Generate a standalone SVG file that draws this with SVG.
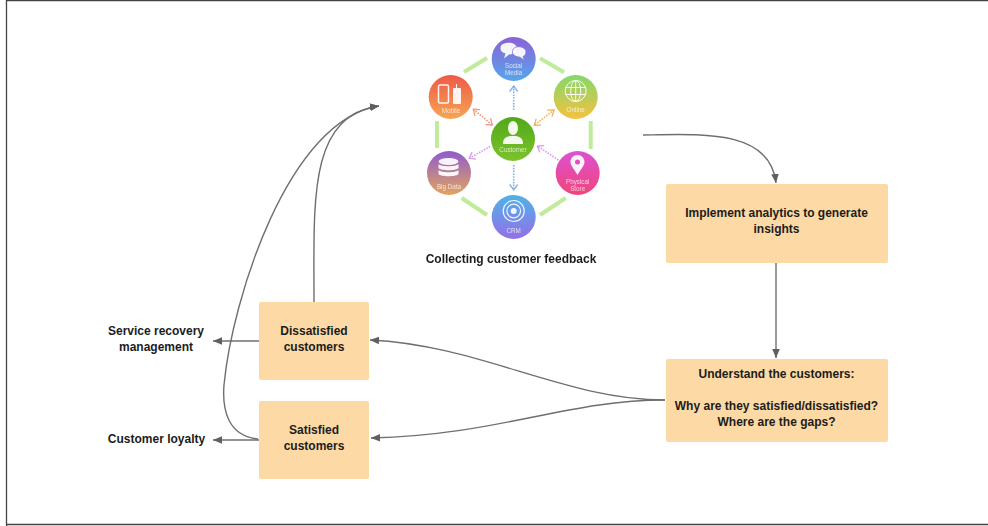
<svg xmlns="http://www.w3.org/2000/svg" width="988" height="526" viewBox="0 0 988 526">
<style>
.box{fill:#fdd9a5}
.t{font:bold 12px "Liberation Sans",Arial,sans-serif;fill:#1c1c1c;text-anchor:middle}
.c{fill:none;stroke:#6f6f73;stroke-width:1.4}
.i{font:6.3px "Liberation Sans",Arial,sans-serif;fill:#fff;fill-opacity:.75;text-anchor:middle}
.ring{fill:none;stroke:#bfeb9a;stroke-width:4}
.d{fill:none;stroke-width:1.6;stroke-dasharray:1.6 1.2}
.w{fill:#fff;fill-opacity:.92}
.o{fill:none;stroke:#fff;stroke-opacity:.9}
</style>
<defs>
<marker id="a" markerUnits="userSpaceOnUse" markerWidth="10" markerHeight="10" refX="9" refY="5" orient="auto"><path d="M0 1.2L9 5L0 8.8Z" fill="#5f5f63"/></marker>
<marker id="hb" markerUnits="userSpaceOnUse" markerWidth="8" markerHeight="10" refX="6.5" refY="5" orient="auto-start-reverse"><path d="M1 1L6.5 5L1 9" fill="none" stroke="#7fb2e8" stroke-width="1.3"/></marker>
<marker id="ho" markerUnits="userSpaceOnUse" markerWidth="8" markerHeight="10" refX="6.5" refY="5" orient="auto-start-reverse"><path d="M1 1L6.5 5L1 9" fill="none" stroke="#f2b25c" stroke-width="1.3"/></marker>
<marker id="hr" markerUnits="userSpaceOnUse" markerWidth="8" markerHeight="10" refX="6.5" refY="5" orient="auto-start-reverse"><path d="M1 1L6.5 5L1 9" fill="none" stroke="#ee9a80" stroke-width="1.3"/></marker>
<marker id="hp" markerUnits="userSpaceOnUse" markerWidth="8" markerHeight="10" refX="6.5" refY="5" orient="auto-start-reverse"><path d="M1 1L6.5 5L1 9" fill="none" stroke="#d79af0" stroke-width="1.3"/></marker>
<linearGradient id="gs" x1="0" y1="0" x2="0" y2="1"><stop offset="0" stop-color="#8c62d6"/><stop offset="1" stop-color="#56a6ea"/></linearGradient>
<linearGradient id="gn" x1="0" y1="0" x2="0" y2="1"><stop offset="0" stop-color="#84d86c"/><stop offset="1" stop-color="#f6c140"/></linearGradient>
<linearGradient id="gm" x1="0" y1="0" x2="0" y2="1"><stop offset="0" stop-color="#ee5a48"/><stop offset="1" stop-color="#f6a552"/></linearGradient>
<linearGradient id="gc" x1="0" y1="0" x2="0" y2="1"><stop offset="0" stop-color="#52a81a"/><stop offset="1" stop-color="#7cc22c"/></linearGradient>
<linearGradient id="gb" x1="0" y1="0" x2="0" y2="1"><stop offset="0" stop-color="#8e5ccc"/><stop offset="1" stop-color="#e3a35e"/></linearGradient>
<linearGradient id="gp" x1="0" y1="0" x2="0" y2="1"><stop offset="0" stop-color="#dc52d2"/><stop offset="1" stop-color="#f2447a"/></linearGradient>
<linearGradient id="gr" x1="0" y1="0" x2="0" y2="1"><stop offset="0" stop-color="#4fb2e8"/><stop offset="1" stop-color="#9470e8"/></linearGradient>
<filter id="soft" x="-5%" y="-5%" width="110%" height="110%"><feGaussianBlur stdDeviation="0.5"/></filter>
<filter id="softer" x="-5%" y="-20%" width="110%" height="140%"><feGaussianBlur stdDeviation="0.3"/></filter>
</defs>
<rect width="988" height="526" fill="#fff"/>
<path d="M6.5 526V.5H988M6 524.5H988" fill="none" stroke="#444" stroke-width="1.3"/>

<g id="connectors">
<path class="c" marker-end="url(#a)" d="M643 135C705 134 770 130 776 183"/>
<path class="c" marker-end="url(#a)" d="M776 263V358"/>
<path class="c" marker-end="url(#a)" d="M665 400C565 400 480 345 370 340"/>
<path class="c" marker-end="url(#a)" d="M665 400C565 400 500 435 371 438"/>
<path class="c" marker-end="url(#a)" d="M259 341H213"/>
<path class="c" marker-end="url(#a)" d="M259 440H213"/>
<path class="c" marker-end="url(#a)" d="M314 302C314 200 308 116 379 106"/>
<path class="c" marker-end="url(#a)" d="M258 439C228 436 222 410 224 385C232 300 288 120 379 106"/>
</g>

<g id="hub" filter="url(#soft)">
<path class="ring" d="M540 58.3L564 72.3M487 58L464 72M437 121V148M590.7 121V149M461.7 198L487 215M540 215L565.7 198"/>
<path class="d" stroke="#7fb2e8" marker-start="url(#hb)" marker-end="url(#hb)" d="M513.7 86V110.7M513.7 165V190"/>
<path class="d" stroke="#ee9a80" marker-start="url(#hr)" marker-end="url(#hr)" d="M473.3 109.3L492.3 125"/>
<path class="d" stroke="#f2b25c" marker-start="url(#ho)" marker-end="url(#ho)" d="M554 110L534.3 125.3"/>
<path class="d" stroke="#d79af0" marker-start="url(#hp)" marker-end="url(#hp)" d="M469.3 158.3L491 146M558.3 160L537.3 146"/>
</g>

<g id="social-media" filter="url(#soft)">
<circle cx="513.7" cy="59" r="22" fill="url(#gs)"/>
<path class="w" d="M503 44c6-2.500 13-1 14 4c0 4-4 6.500-8 6.500l-5 4l1.500-5c-4-1-5-3-5-5.500c0-2 1-3.500 2.500-4z"/>
<path class="w" stroke="#8470dc" stroke-width=".8" d="M516 47c5-1 10 1 10 5c0 2.500-1.500 4-3 4.500l1.500 4l-5-3.500c-3 0-7-1.500-7-5c0-2.500 1-4 3.500-5z"/>
<text class="i" x="513.700" y="67.500">Social</text><text class="i" x="513.700" y="75">Media</text>
</g>

<g id="online" filter="url(#soft)">
<circle cx="575.700" cy="97" r="22" fill="url(#gn)"/>
<g class="o" stroke-width="1"><circle cx="575.700" cy="91" r="10.500"/><ellipse cx="575.700" cy="91" rx="5" ry="10.500"/><path d="M575.700 80.500V101.500M565.500 87.500H586M565.500 94.500H586"/></g>
<text class="i" x="575.700" y="112">Online</text>
</g>

<g id="mobile" filter="url(#soft)">
<circle cx="450.700" cy="97" r="22" fill="url(#gm)"/>
<rect class="o" x="438.500" y="85" width="10" height="18" rx="1.500" stroke-width="1.500"/>
<path class="w" d="M454 88h2v-4h1v4h3a1 1 0 0 1 1 1v14a1 1 0 0 1-1 1h-6a1 1 0 0 1-1-1V89a1 1 0 0 1 1-1z"/>
<text class="i" x="451" y="113">Mobile</text>
</g>

<g id="customer" filter="url(#soft)">
<circle cx="513" cy="139" r="22" fill="url(#gc)"/>
<ellipse class="w" cx="513" cy="128" rx="5" ry="7"/>
<path class="w" d="M503 144c0-5 2-7 7-8h6c5 1 7 3 7 8z"/>
<text class="i" x="513" y="151.500">Customer</text>
</g>

<g id="big-data" filter="url(#soft)">
<circle cx="449" cy="173" r="22" fill="url(#gb)"/>
<ellipse class="w" cx="448.500" cy="161.500" rx="10" ry="3.500"/>
<path class="w" d="M438.500 164c2 3 18 3 20 0v4c-2 3-18 3-20 0zM438.500 170c2 3 18 3 20 0v4c-2 3-18 3-20 0z"/>
<text class="i" x="449" y="189">Big Data</text>
</g>

<g id="physical-store" filter="url(#soft)">
<circle cx="577.700" cy="173" r="22" fill="url(#gp)"/>
<path class="w" fill-rule="evenodd" d="M577.500 155c-4 0-7 3-7 7c0 4 4.500 8 7 13c2.500-5 7-9 7-13c0-4-3-7-7-7zM577.500 159.500a2.500 2.500 0 1 1 0 5a2.500 2.500 0 0 1 0-5z"/>
<text class="i" x="577.700" y="184">Physical</text><text class="i" x="577.700" y="191">Store</text>
</g>

<g id="crm" filter="url(#soft)">
<circle cx="513.700" cy="217" r="22" fill="url(#gr)"/>
<g class="o" stroke-width="1.200"><circle cx="513.700" cy="211" r="10.500"/><circle cx="513.700" cy="211" r="6.800"/></g>
<circle class="w" cx="513.700" cy="211" r="3"/>
<text class="i" x="513.700" y="233">CRM</text>
</g>

<g filter="url(#softer)">
<text class="t" x="511" y="263">Collecting customer feedback</text>
</g>

<g id="implement"><rect class="box" x="666" y="184" width="222" height="79" rx="2"/>
<text class="t" x="776.500" y="217">Implement analytics to generate</text><text class="t" x="776.500" y="233">insights</text></g>

<g id="understand"><rect class="box" x="666" y="359" width="222" height="83" rx="2"/>
<text class="t" x="776.500" y="378">Understand the customers:</text><text class="t" x="776.500" y="410">Why are they satisfied/dissatisfied?</text><text class="t" x="776.500" y="426">Where are the gaps?</text></g>

<g id="dissatisfied"><rect class="box" x="259" y="302" width="110" height="78" rx="2"/>
<text class="t" x="314" y="335">Dissatisfied</text><text class="t" x="314" y="351">customers</text></g>

<g id="satisfied"><rect class="box" x="259" y="401" width="110" height="78" rx="2"/>
<text class="t" x="314" y="434">Satisfied</text><text class="t" x="314" y="450">customers</text></g>

<g id="service-recovery"><text class="t" x="156" y="335">Service recovery</text><text class="t" x="156" y="351">management</text></g>
<g id="customer-loyalty"><text class="t" x="156.500" y="443">Customer loyalty</text></g>
</svg>
